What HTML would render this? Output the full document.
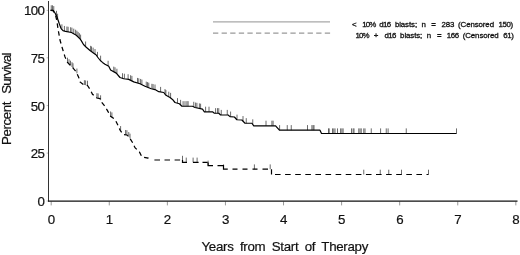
<!DOCTYPE html>
<html><head><meta charset="utf-8"><title>Survival</title>
<style>
html,body{margin:0;padding:0;background:#fff;}
svg{display:block;}
text{font-family:"Liberation Sans",Arial,Helvetica,sans-serif;fill:#111;}
</style></head>
<body>
<svg width="520" height="255" viewBox="0 0 520 255">
<rect width="520" height="255" fill="#fff"/>
<g font-size="13.3" stroke="#111" stroke-width="0.2">
<text x="51.40" y="224.2" text-anchor="middle">0</text><text x="109.48" y="224.2" text-anchor="middle">1</text><text x="167.56" y="224.2" text-anchor="middle">2</text><text x="225.64" y="224.2" text-anchor="middle">3</text><text x="283.72" y="224.2" text-anchor="middle">4</text><text x="341.80" y="224.2" text-anchor="middle">5</text><text x="399.88" y="224.2" text-anchor="middle">6</text><text x="457.96" y="224.2" text-anchor="middle">7</text><text x="516.04" y="224.2" text-anchor="middle">8</text>
<text x="44.1" y="15.25" text-anchor="end" letter-spacing="-0.7">100</text><text x="44.1" y="62.8" text-anchor="end" letter-spacing="-0.7">75</text><text x="44.1" y="110.5" text-anchor="end" letter-spacing="-0.7">50</text><text x="44.1" y="157.9" text-anchor="end" letter-spacing="-0.7">25</text><text x="44.1" y="205.9" text-anchor="end" letter-spacing="-0.7">0</text>
<text x="201.5" y="251" word-spacing="3" letter-spacing="-0.3">Years from Start of Therapy</text>
<text transform="translate(10.8,145.0) rotate(-90)" letter-spacing="-0.4">Percent</text>
<text transform="translate(10.8,93.8) rotate(-90)" letter-spacing="-0.85">Survival</text>
</g>
<g font-size="7.9" letter-spacing="-0.1" stroke="#111" stroke-width="0.3">
<text y="27.2"><tspan x="352.0">&lt;</tspan> <tspan x="362.2" letter-spacing="-0.9">10%</tspan> <tspan x="379.3" letter-spacing="-0.6">d16</tspan> <tspan x="394.9">blasts;</tspan> <tspan x="421.6">n</tspan> <tspan x="431.3">=</tspan> <tspan x="441.5">283</tspan> <tspan x="458.0">(Censored</tspan> <tspan x="498.6" letter-spacing="-0.4">150)</tspan> </text>
<text y="38.2"><tspan x="355.6" letter-spacing="-0.9">10%</tspan> <tspan x="373.8">+</tspan> <tspan x="384.5" letter-spacing="-0.6">d16</tspan> <tspan x="400.1">blasts;</tspan> <tspan x="426.8">n</tspan> <tspan x="436.9">=</tspan> <tspan x="446.7" letter-spacing="-0.4">166</tspan> <tspan x="462.7">(Censored</tspan> <tspan x="503.2" letter-spacing="-0.3">61)</tspan> </text>
</g>
<line x1="213" y1="21.9" x2="330" y2="21.9" stroke="#a8a8a8" stroke-width="1.4"/>
<line x1="213" y1="33.1" x2="330.5" y2="33.1" stroke="#999" stroke-width="1.1" stroke-dasharray="5.3,3.3"/>
<line x1="51.20" y1="201.5" x2="51.20" y2="205.4" stroke="#999" stroke-width="1"/><line x1="109.28" y1="201.5" x2="109.28" y2="205.4" stroke="#999" stroke-width="1"/><line x1="167.36" y1="201.5" x2="167.36" y2="205.4" stroke="#999" stroke-width="1"/><line x1="225.44" y1="201.5" x2="225.44" y2="205.4" stroke="#999" stroke-width="1"/><line x1="283.52" y1="201.5" x2="283.52" y2="205.4" stroke="#999" stroke-width="1"/><line x1="341.60" y1="201.5" x2="341.60" y2="205.4" stroke="#999" stroke-width="1"/><line x1="399.68" y1="201.5" x2="399.68" y2="205.4" stroke="#999" stroke-width="1"/><line x1="457.76" y1="201.5" x2="457.76" y2="205.4" stroke="#999" stroke-width="1"/><line x1="515.84" y1="201.5" x2="515.84" y2="205.4" stroke="#999" stroke-width="1"/>
<line x1="46.6" y1="10.4" x2="48.2" y2="10.4" stroke="#bbb" stroke-width="1"/><line x1="46.6" y1="57.8" x2="48.2" y2="57.8" stroke="#bbb" stroke-width="1"/><line x1="46.6" y1="105.6" x2="48.2" y2="105.6" stroke="#bbb" stroke-width="1"/><line x1="46.6" y1="153.1" x2="48.2" y2="153.1" stroke="#bbb" stroke-width="1"/><line x1="46.6" y1="201" x2="48.2" y2="201" stroke="#bbb" stroke-width="1"/>
<line x1="48.5" y1="1" x2="48.5" y2="201.5" stroke="#333" stroke-width="1"/>
<line x1="48" y1="201.15" x2="517.5" y2="201.15" stroke="#111" stroke-width="1.3"/>
<path d="M51.25,10.40v-5.1 M52.50,10.40v-5.1 M53.75,11.19v-5.1 M56.50,15.92v-5.1 M57.60,18.82v-5.1 M61.90,29.44v-5.1 M64.40,31.05v-5.1 M66.90,31.66v-5.1 M68.10,31.88v-5.1 M70.60,32.34v-5.1 M71.90,32.73v-5.1 M73.75,33.78v-5.1 M75.60,34.83v-5.1 M76.90,35.84v-5.1 M78.10,37.03v-5.1 M79.40,38.31v-5.1 M80.60,39.72v-5.1 M85.60,46.60v-5.1 M90.60,50.93v-5.1 M91.50,51.58v-5.1 M93.10,52.73v-5.1 M95.00,54.10v-5.1 M97.50,57.00v-5.1 M100.60,60.76v-5.1 M108.10,65.89v-5.1 M113.75,71.73v-5.1 M115.00,72.41v-5.1 M116.90,73.86v-5.1 M122.50,78.33v-5.1 M124.40,78.83v-5.1 M128.10,79.32v-5.1 M130.60,80.33v-5.1 M131.90,80.98v-5.1 M137.50,83.01v-5.1 M138.75,83.38v-5.1 M140.60,84.05v-5.1 M141.90,84.70v-5.1 M146.25,86.75v-5.1 M147.50,87.25v-5.1 M148.75,87.75v-5.1 M151.90,88.90v-5.1 M153.10,89.17v-5.1 M155.00,89.60v-5.1 M160.60,92.00v-5.1 M165.00,94.19v-5.1 M165.90,95.17v-5.1 M168.75,96.79v-5.1 M170.60,97.96v-5.1 M177.50,103.21v-5.1 M180.60,104.95v-5.1 M183.10,106.25v-5.1 M185.00,106.25v-5.1 M186.90,106.25v-5.1 M188.10,106.25v-5.1 M193.75,106.88v-5.1 M195.60,107.64v-5.1 M196.90,107.93v-5.1 M199.40,108.50v-5.1 M200.60,108.77v-5.1 M205.60,111.80v-5.1 M209.00,111.80v-5.1 M215.60,113.25v-5.1 M217.50,113.25v-5.1 M218.75,113.25v-5.1 M221.25,115.00v-5.1 M227.25,115.00v-5.1 M230.60,116.65v-5.1 M237.00,119.75v-5.1 M243.00,121.15v-5.1 M246.25,123.25v-5.1 M252.75,124.42v-5.1 M266.00,125.80v-5.1 M271.90,125.80v-5.1 M273.10,125.80v-5.1 M279.60,130.20v-5.1 M287.25,130.20v-5.1 M291.25,130.20v-5.1 M307.50,130.20v-5.1 M311.90,130.20v-5.1 M313.10,130.20v-5.1 M314.00,130.20v-5.1 M328.50,133.50v-5.1 M329.20,133.50v-5.1 M332.50,133.50v-5.1 M333.75,133.50v-5.1 M335.00,133.50v-5.1 M337.50,133.50v-5.1 M340.60,133.50v-5.1 M341.90,133.50v-5.1 M343.10,133.50v-5.1 M351.50,133.50v-5.1 M353.10,133.50v-5.1 M354.00,133.50v-5.1 M358.75,133.50v-5.1 M360.00,133.50v-5.1 M361.25,133.50v-5.1 M363.75,133.50v-5.1 M365.00,133.50v-5.1 M371.25,133.50v-5.1 M380.60,133.50v-5.1 M386.25,133.50v-5.1 M388.10,133.50v-5.1 M406.25,133.50v-5.1 M456.50,133.50v-5.1" stroke="#3a3a3a" stroke-width="0.75" fill="none"/>
<path d="M67.50,62.50v-4.8 M69.00,64.00v-4.8 M70.50,65.50v-4.8 M72.00,67.00v-4.8 M73.00,68.09v-4.8 M76.90,73.36v-4.8 M84.40,85.00v-4.8 M85.60,85.20v-4.8 M87.50,85.50v-4.8 M96.90,98.00v-4.8 M98.10,98.23v-4.8 M100.60,100.11v-4.8 M110.60,116.25v-4.8 M111.90,117.18v-4.8 M120.60,130.85v-4.8 M125.60,134.79v-4.8 M126.90,135.00v-4.8 M128.75,136.85v-4.8 M130.00,138.47v-4.8 M186.25,162.40v-4.8 M193.10,162.40v-4.8 M197.10,162.40v-4.8 M254.40,169.20v-4.8 M270.20,169.20v-4.8 M363.75,174.50v-4.8 M380.25,174.50v-4.8 M388.75,174.50v-4.8 M401.50,174.50v-4.8 M428.50,174.50v-4.8 M182.5,162.4V155.8 M208.1,165.6V160.6 M223.5,169.2V164.4" stroke="#3a3a3a" stroke-width="0.75" fill="none"/>
<path d="M50.60,10.40 L53.20,10.40 L55.00,13.00 L56.80,16.50 L59.30,23.75 L61.10,28.60 L63.00,30.60 L65.50,31.40 L71.50,32.50 L76.25,35.20 L80.00,38.90 L81.25,40.60 L83.50,44.50 L86.25,47.25 L90.00,50.50 L93.75,53.20 L96.25,55.00 L97.50,57.00 L100.30,60.50 L102.50,62.40 L105.00,64.20 L108.75,66.25 L110.60,70.00 L116.25,73.10 L120.00,77.50 L123.75,78.75 L128.75,79.40 L133.75,81.90 L140.00,83.75 L145.00,86.25 L151.25,88.75 L155.00,89.60 L158.75,91.70 L163.75,92.50 L165.60,95.00 L170.00,97.50 L172.50,99.40 L175.00,102.50 L179.40,103.75 L181.90,106.25 L192.50,106.25 L195.00,107.50 L202.50,109.20 L204.40,111.80 L212.50,111.80 L214.40,113.25 L218.75,113.25 L220.60,115.00 L228.10,115.00 L230.00,116.60 L234.40,117.00 L236.90,119.75 L241.90,120.00 L245.00,123.25 L251.90,123.25 L253.75,125.80 L275.60,125.80 L279.40,130.20 L320.00,130.20 L321.50,133.50 L456.50,133.50" stroke="#000" stroke-width="1.2" fill="none" stroke-linejoin="round"/>
<path d="M50.60,10.40 L53.00,10.60 L55.50,15.00 L56.90,21.00 L58.00,28.75 L60.00,40.00 L62.50,48.75 L65.00,56.90 L67.50,62.50 L72.50,67.50 L76.25,71.90 L78.75,77.50 L80.00,81.90 L83.75,84.90 L87.50,85.50 L90.00,89.25 L92.50,94.25 L96.90,98.00 L100.00,98.60 L101.25,101.75 L104.40,105.60 L107.50,110.60 L110.60,116.25 L115.00,119.40 L118.10,125.60 L120.00,130.00 L123.10,134.40 L126.90,135.00 L129.40,137.50 L132.50,142.50 L135.00,147.70 L139.40,151.90 L141.90,156.90 L148.10,158.10 L148.75,160.00" stroke="#000" stroke-width="1.25" fill="none" stroke-dasharray="4.5,3.5"/>
<path d="M154.4,160H160 M164.5,160H170 M174.6,160H180.1 M182.5,160V162.4H187 M193,162.4H198.6 M202.5,162.4H207.5 M208.1,162.4V165.6H213 M217.5,165.6H223.5V169.2H227.75 M232.5,169.2H237.5 M242.5,169.2H247.5 M252.5,169.2H257.5 M262.5,169.2H268 M271.5,169.2V174.5 M275.00,174.5H280.60 M285.10,174.5H290.70 M295.20,174.5H300.80 M305.30,174.5H310.90 M315.40,174.5H321.00 M325.50,174.5H331.10 M335.60,174.5H341.20 M345.70,174.5H351.30 M355.80,174.5H361.40 M365.90,174.5H371.50 M376.00,174.5H381.60 M386.10,174.5H391.70 M396.20,174.5H401.80 M406.30,174.5H411.90 M416.40,174.5H422.00 M426.50,174.5H428.50" stroke="#000" stroke-width="1.2" fill="none"/>
</svg>
</body></html>
